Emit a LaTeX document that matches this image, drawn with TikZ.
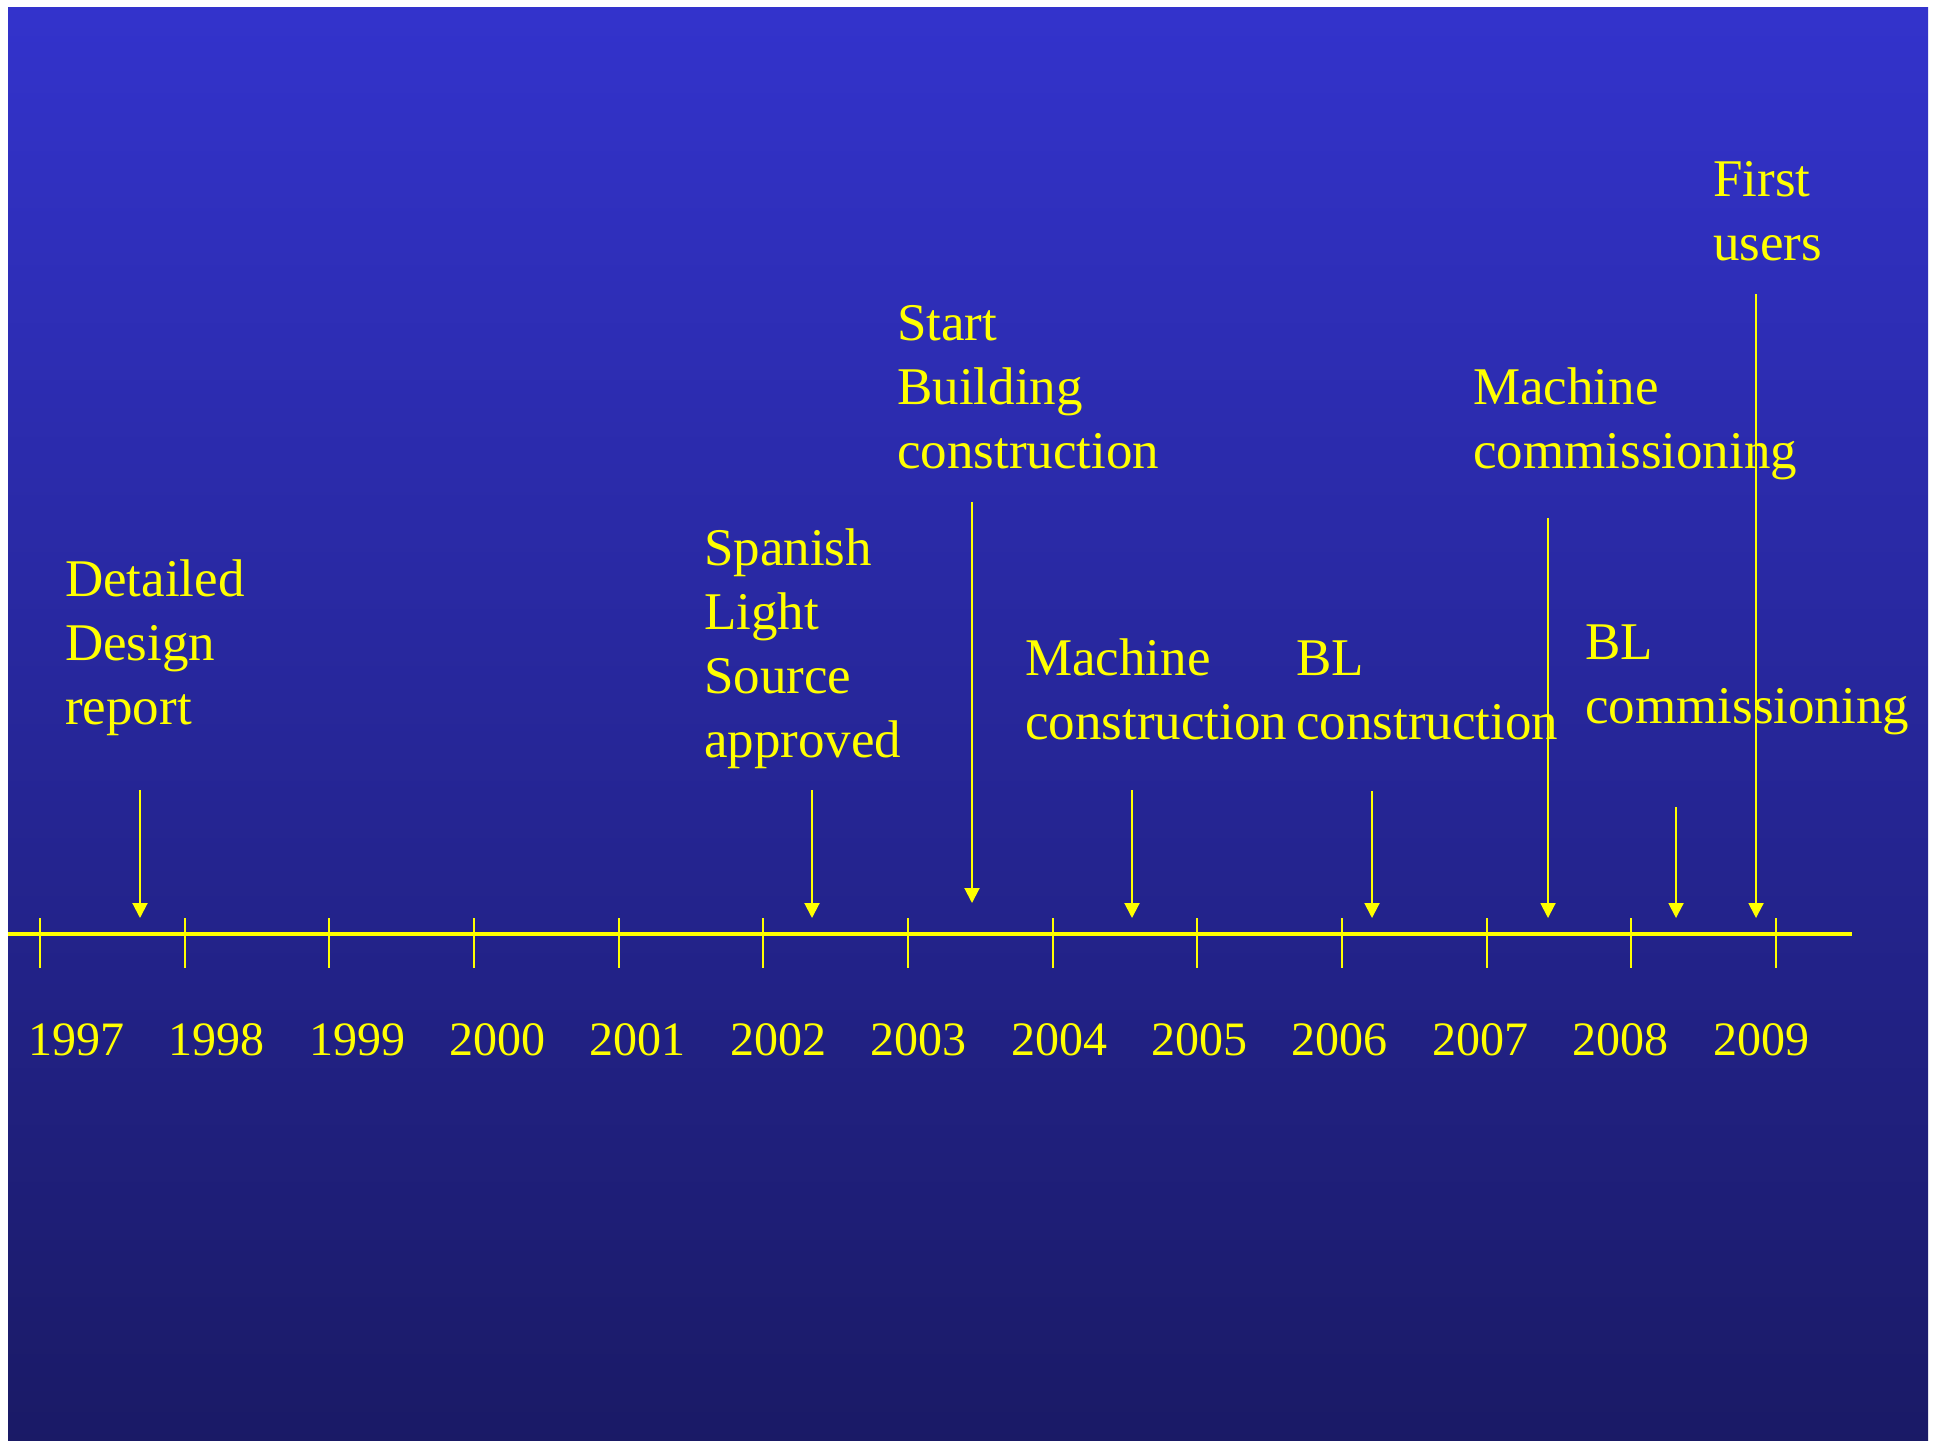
\documentclass[tikz,border=0pt]{standalone}
\usepackage{fontspec}
\setmainfont{Liberation Serif}
\usetikzlibrary{arrows.meta}
\definecolor{bgtop}{HTML}{3333CC}
\definecolor{bgbot}{HTML}{1A1A66}
\definecolor{ylw}{HTML}{FFFF00}
\tikzset{
  lbl/.style={anchor=base west, inner sep=0pt, text=ylw, font=\fontsize{53}{64}\selectfont},
  yr/.style={anchor=base west, inner sep=0pt, text=ylw, font=\fontsize{48}{58}\selectfont},
  axis/.style={draw=ylw, line width=4.5pt},
  tck/.style={draw=ylw, line width=2pt},
  evarrow/.style={draw=ylw, line width=2pt, -{Triangle[width=15pt,length=15pt]}}
}
\newcommand{\ml}[1]{\begin{tabular}[t]{@{}l@{}}#1\end{tabular}}
\begin{document}
\begin{tikzpicture}[x=1pt,y=-1pt]
\useasboundingbox (0,0) rectangle (1937,1440);
\fill[white] (0,0) rectangle (1937,1440);
\shade[top color=bgtop, bottom color=bgbot] (8,7) rectangle (1928,1440);
% axis
\coordinate (axL) at (8,934);
\coordinate (axR) at (1852,934);
\draw[axis] (axL) -- (axR);
\foreach \i in {0,...,12}{
  \coordinate (t\i a) at ({40+144.67*\i},918);
  \coordinate (t\i b) at ({40+144.67*\i},968);
  \draw[tck] (t\i a) -- (t\i b);
}
% years
\foreach \y [count=\i from 0] in {1997,1998,1999,2000,2001,2002,2003,2004,2005,2006,2007,2008,2009}{
  \node[yr] (y\y) at ({28+140.4*\i},1055) {\y};
}
% labels
\node[lbl] (ddr) at (65,596) {\ml{Detailed\\Design\\report}};
\node[lbl] (sls) at (704,565) {\ml{Spanish\\Light\\Source\\approved}};
\node[lbl] (sbc) at (897,340) {\ml{Start\\Building\\construction}};
\node[lbl] (mcn) at (1025,675) {\ml{Machine\\construction}};
\node[lbl] (blc) at (1296,675) {\ml{BL\\construction}};
\node[lbl] (mcm) at (1473,404) {\ml{Machine\\commissioning}};
\node[lbl] (blm) at (1585,659) {\ml{BL\\commissioning}};
\node[lbl] (fus) at (1713,196) {\ml{First\\users}};
% arrows
\coordinate (a1s) at (140,790);  \coordinate (a1e) at (140,918);
\coordinate (a2s) at (812,790);  \coordinate (a2e) at (812,918);
\coordinate (a3s) at (972,502);  \coordinate (a3e) at (972,903);
\coordinate (a4s) at (1132,790); \coordinate (a4e) at (1132,918);
\coordinate (a5s) at (1372,791); \coordinate (a5e) at (1372,918);
\coordinate (a6s) at (1548,518); \coordinate (a6e) at (1548,918);
\coordinate (a7s) at (1676,807); \coordinate (a7e) at (1676,918);
\coordinate (a8s) at (1756,294); \coordinate (a8e) at (1756,918);
\foreach \k in {1,...,8}{
  \draw[evarrow] (a\k s) -- (a\k e);
}
\end{tikzpicture}
\end{document}
